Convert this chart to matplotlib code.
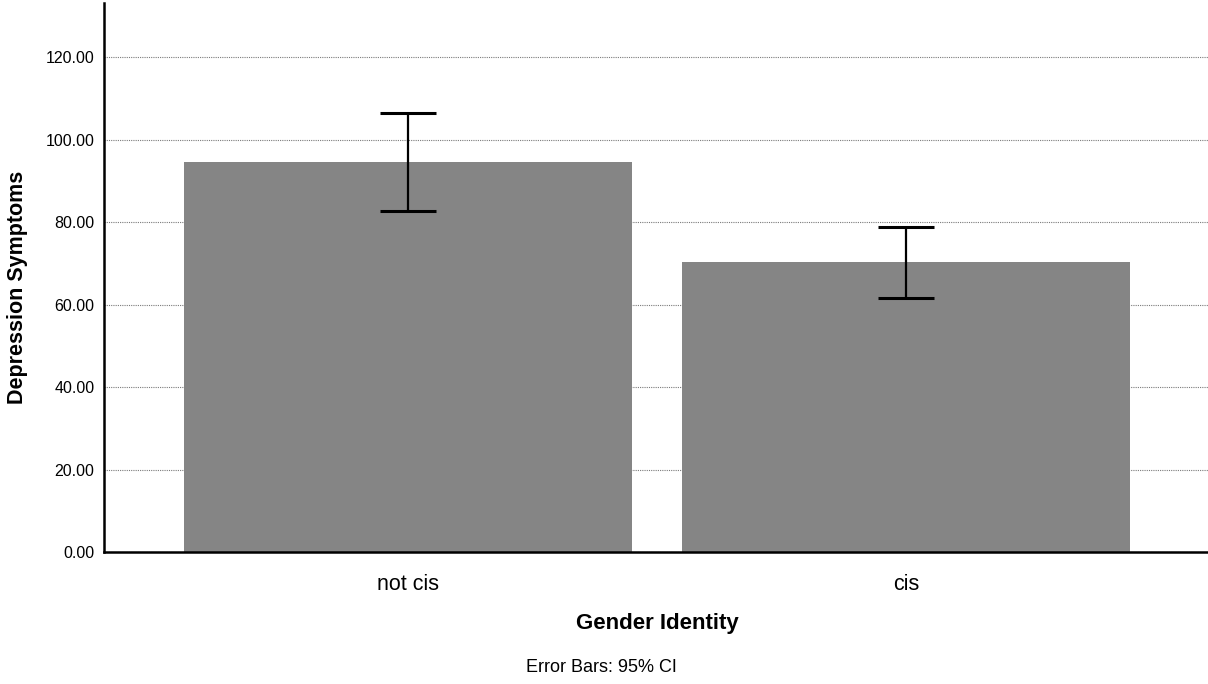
import matplotlib.pyplot as plt

categories = ["not cis", "cis"]
means = [94.7, 70.3]
ci_low = [82.7, 61.7]
ci_high = [106.6, 78.9]

plt.rcParams["font.family"] = ["Liberation Sans", "DejaVu Sans"]

fig = plt.figure(figsize=(12.08, 6.84), dpi=100)
ax = fig.add_axes([104 / 1208, 132 / 684, 1 - 104 / 1208, 549 / 684])

x = list(range(len(categories)))
err = [[m - lo for m, lo in zip(means, ci_low)],
       [hi - m for m, hi in zip(means, ci_high)]]

ax.bar(x, means, width=0.9, color="#858585", zorder=2)
ax.errorbar(x, means, yerr=err, fmt="none", ecolor="black",
            elinewidth=1.6, capsize=20, capthick=2.2, zorder=3)

ax.set_xlim(-0.61, 1.606)
ax.set_ylim(0, 133.2)
ax.set_yticks([0, 20, 40, 60, 80, 100, 120])
ax.set_yticklabels([f"{v:.2f}" for v in [0, 20, 40, 60, 80, 100, 120]], fontsize=11.5)
ax.set_xticks(x)
ax.set_xticklabels(categories, fontsize=15.5)
ax.tick_params(length=0, pad=7)
ax.tick_params(axis="x", pad=16)

ax.grid(axis="y", linestyle=(0, (1, 1)), color="#7a7a7a", linewidth=0.8, zorder=1)
ax.spines["top"].set_visible(False)
ax.spines["right"].set_visible(False)
ax.spines["left"].set_linewidth(1.8)
ax.spines["bottom"].set_linewidth(1.8)

ax.set_ylabel("Depression Symptoms", fontsize=15.5, fontweight="bold")
ax.yaxis.set_label_coords(-(104 - 28) / 1104, (552 - 287) / 549)
ax.set_xlabel("Gender Identity", fontsize=16, fontweight="bold")
ax.xaxis.set_label_coords((657 - 104) / 1104, -(613 - 552) / 549)

fig.text(601 / 1208, 1 - 668 / 684, "Error Bars: 95% CI", fontsize=13,
         ha="center", va="center")

fig.savefig("out.png", dpi=100)
